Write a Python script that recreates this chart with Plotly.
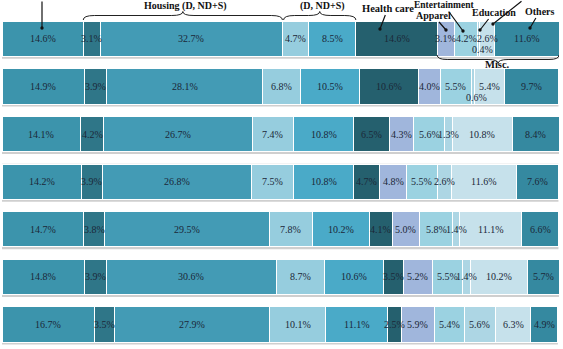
import plotly.graph_objects as go

# ---- data (shares of expenditure, %) ----
rows = [0, 1, 2, 3, 4, 5, 6]
segments = ["Food", "Housing (D)", "Housing (ND+S)", "Transport (D)", "Transport (ND+S)",
            "Health care", "Apparel", "Entertainment", "Education", "Misc. other", "Others"]
food = [14.6, 14.9, 14.1, 14.2, 14.7, 14.8, 16.7]
housing_d = [3.1, 3.9, 4.2, 3.9, 3.8, 3.9, 3.5]
housing_nds = [32.7, 28.1, 26.7, 26.8, 29.5, 30.6, 27.9]
transport_d = [4.7, 6.8, 7.4, 7.5, 7.8, 8.7, 10.1]
transport_nds = [8.5, 10.5, 10.8, 10.8, 10.2, 10.6, 11.1]
health = [14.6, 10.6, 6.5, 4.7, 4.1, 3.5, 2.5]
apparel = [3.1, 4.0, 4.3, 4.8, 5.0, 5.2, 5.9]
entertainment = [4.2, 5.5, 5.6, 5.5, 5.8, 5.5, 5.4]
education = [0.4, 0.6, 1.3, 2.6, 1.4, 1.4, 5.6]
misc_other = [2.6, 5.4, 10.8, 11.6, 11.1, 10.2, 6.3]
others = [11.6, 9.7, 8.4, 7.6, 6.6, 5.7, 4.9]

series = [food, housing_d, housing_nds, transport_d, transport_nds, health,
          apparel, entertainment, education, misc_other, others]
colors = ["#3C94AC", "#2F7688", "#439BB5", "#96CDDE", "#4AAAC8", "#25606E",
          "#A0B6DC", "#9BD2E1", "#ADD6E4", "#C6E1EB", "#3589A0"]

W, H = 563, 349
ML, MR = 2, 4
XMAX = 100.1
YTOP, YBOT = -0.815, 6.514
pxx = (W - ML - MR) / XMAX
pxy = H / (YBOT - YTOP)


def X(p):  # pixel -> data x
    return (p - ML) / pxx


def Y(p):  # pixel -> data y
    return YTOP + p / pxy


serif = "Times New Roman, Liberation Serif, serif"
txtcol = "#1b2838"

fig = go.Figure()
for name, vals, col in zip(segments, series, colors):
    fig.add_trace(go.Bar(
        y=rows, x=vals, orientation="h", name=name, width=0.74,
        marker=dict(color=col, line=dict(color="white", width=1)),
        hoverinfo="x+name", showlegend=False))

shapes = []
annotations = []

# row shadows and value labels
for i in rows:
    total = sum(s[i] for s in series)
    shapes.append(dict(type="rect", xref="x", yref="y", layer="below",
                       x0=-0.35, x1=total, y0=i - 0.375, y1=i + 0.42,
                       fillcolor="#cfcfcf", line=dict(width=0)))
    cum = 0.0
    for k, s in enumerate(series):
        v = s[i]
        xs, ys = 0, 0
        if v < 1.0:
            xs, ys = 4, -11
        annotations.append(dict(x=cum + v / 2, y=i, xref="x", yref="y",
                                text=f"{v:.1f}%", showarrow=False, xshift=xs, yshift=ys,
                                font=dict(family=serif, size=10, color=txtcol)))
        cum += v


def brace(x0, x1, yend, yline, ytip, r):
    """curly brace: ends at yend, straight part at yline, centre tip at ytip"""
    xc = (x0 + x1) / 2
    return (f"M {x0},{yend} Q {x0},{yline} {x0 + r},{yline} L {xc - r},{yline} "
            f"Q {xc},{yline} {xc},{ytip} Q {xc},{yline} {xc + r},{yline} "
            f"L {x1 - r},{yline} Q {x1},{yline} {x1},{yend}")


# top braces for housing and transport
h0 = food[0]
h1 = food[0] + housing_d[0] + housing_nds[0]
t1 = h1 + transport_d[0] + transport_nds[0]
for a, b in [(h0, h1), (h1 + 0.2, t1)]:
    shapes.append(dict(type="path", xref="x", yref="y",
                       path=brace(a, b, Y(20), Y(15.5), Y(11.5), 2.0),
                       line=dict(color="#222222", width=1)))
# misc brace under first row
m0 = sum(s[0] for s in series[:6])
m1 = sum(s[0] for s in series)
shapes.append(dict(type="path", xref="x", yref="y",
                   path=brace(m0, m1, Y(55), Y(59.5), Y(63.5), 1.8),
                   line=dict(color="#222222", width=1)))

bold = dict(family=serif, size=10.5, color="#111111")
small_bold = dict(family=serif, size=10, color="#111111")
annotations += [
    dict(x=X(185), y=Y(5.5), xref="x", yref="y", text="<b>Housing (D, ND+S)</b>",
         showarrow=False, font=small_bold),
    dict(x=X(322), y=Y(5.5), xref="x", yref="y", text="<b>(D, ND+S)</b>",
         showarrow=False, font=small_bold),
    dict(x=X(497), y=Y(64), xref="x", yref="y", text="<b>Misc.</b>",
         showarrow=False, font=bold),
]

arrows = [
    ("", 42, 28, 0, -40, bold),
    ("<b>Health care</b>", 380, 29, 8, -21, bold),
    ("<b>Apparel</b>", 446, 30, -13, -15, small_bold),
    ("<b>Entertainment</b>", 463, 31, -19, -26, dict(family=serif, size=9.5, color="#111111")),
    ("<b>Education</b>", 480, 30, 14, -18, small_bold),
    ("", 493, 24, 30, -30, bold),
    ("<b>Others</b>", 530, 28, 10, -17, small_bold),
]
for txt, px, py, ax, ay, f in arrows:
    annotations.append(dict(x=X(px), y=Y(py), xref="x", yref="y", text=txt,
                            showarrow=True, ax=ax, ay=ay, arrowhead=6, arrowsize=0.7,
                            arrowwidth=1.2, arrowcolor="#111111", font=f))

fig.update_layout(
    barmode="stack", bargap=0.26,
    width=W, height=H,
    margin=dict(l=ML, r=MR, t=0, b=0),
    paper_bgcolor="white", plot_bgcolor="white",
    xaxis=dict(range=[0, XMAX], visible=False),
    yaxis=dict(range=[YBOT, YTOP], visible=False),
    shapes=shapes, annotations=annotations,
)

fig.write_html("out.html")
